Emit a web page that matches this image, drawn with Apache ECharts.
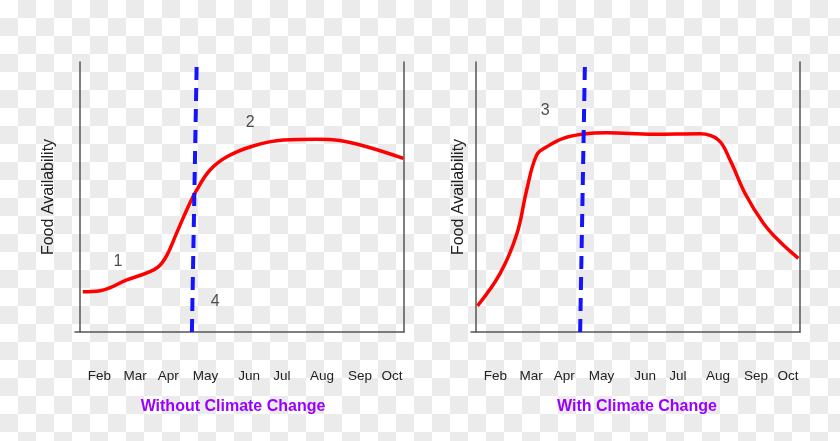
<!DOCTYPE html>
<html>
<head>
<meta charset="utf-8">
<script src="https://cdn.jsdelivr.net/npm/echarts@6/dist/echarts.min.js"></script>
<style>
  html, body { margin: 0; padding: 0; }
  body {
    background: conic-gradient(#ebebeb 0 25%, #fff 0 50%, #ebebeb 0 75%, #fff 0) 0 0 / 36px 36px;
  }
  #chart { width: 840px; height: 441px; }
</style>
</head>
<body>
<div id="chart"></div>
<script>
var months = ['Feb', 'Mar', 'Apr', 'May', 'Jun', 'Jul', 'Aug', 'Sep', 'Oct'];
// where each month label sits along the season (0-100)
var monthPos = [5.9, 17.0, 27.2, 38.7, 52.2, 62.3, 74.7, 86.4, 96.3];

// food availability, without climate change
var foodWithout = [
  [0.8, 14.9], [6.2, 15.3], [14.4, 19.3], [20.6, 21.9], [24.1, 24.1],
  [26.8, 28.5], [29.8, 36.7], [32.9, 45.2], [36.0, 52.6], [40.1, 60.0],
  [45.3, 64.9], [53.4, 68.9], [62.7, 71.1], [73.1, 71.4], [80.2, 70.9],
  [88.5, 68.6], [99.8, 64.3]
];
// food availability, with climate change
var foodWith = [
  [0.4, 9.7], [7.4, 21.7], [12.6, 36.5], [15.6, 52.6], [18.7, 65.6],
  [21.8, 68.6], [26.9, 71.7], [33.1, 73.3], [40.3, 73.8], [54.7, 73.2],
  [69.1, 73.4], [74.8, 71.1], [78.4, 63.7], [83.0, 51.4], [88.7, 40.3],
  [93.8, 33.4], [99.5, 27.3]
];
// hatching date (blue dashed line)
var hatchWithout = [[34.5, 0], [36.0, 101.1]];
var hatchWith = [[32.1, 0], [33.6, 100.7]];

var notesWithout = [['1', 11.7, 25.9], ['2', 52.5, 77.4], ['4', 41.7, 11.1]];
var notesWith = [['3', 21.3, 81.9]];

var titles = ['Without Climate Change', 'With Climate Change'];
var yName = 'Food Availability';

var font = '"Liberation Sans", Arial, sans-serif';
var axisCol = '#555';

var chart = echarts.init(document.getElementById('chart'));

function xAxisFor(idx) {
  return {
    type: 'value', gridIndex: idx, min: -1.6, max: 100,
    axisLine: { show: true, onZero: false, lineStyle: { color: axisCol, width: 1.5 } },
    axisTick: { show: false },
    splitLine: { show: false },
    axisLabel: {
      customValues: monthPos,
      margin: 37,
      color: '#222',
      fontSize: 13.5,
      fontFamily: font,
      formatter: function (v) {
        var i = monthPos.indexOf(v);
        return i >= 0 ? months[i] : '';
      }
    }
  };
}

function yAxesFor(idx, gap) {
  return [{
    type: 'value', gridIndex: idx, min: 0, max: 100,
    name: yName, nameLocation: 'middle', nameGap: gap,
    nameTextStyle: { color: '#222', fontSize: 16, fontFamily: font },
    axisLine: { show: true, onZero: true, lineStyle: { color: axisCol, width: 1.5 } },
    axisTick: { show: false }, axisLabel: { show: false }, splitLine: { show: false }
  }, {
    type: 'value', gridIndex: idx, min: 0, max: 100, position: 'right',
    axisLine: { show: true, onZero: false, lineStyle: { color: axisCol, width: 1.5 } },
    axisTick: { show: false }, axisLabel: { show: false }, splitLine: { show: false }
  }];
}

function curve(idx, data) {
  return {
    type: 'line', xAxisIndex: idx, yAxisIndex: idx * 2, data: data,
    smooth: 0.4, symbol: 'none', clip: false,
    lineStyle: { color: '#ff0000', width: 3.5 }
  };
}

function hatch(idx, data) {
  return {
    type: 'line', xAxisIndex: idx, yAxisIndex: idx * 2, data: data,
    symbol: 'none', clip: false, z: 3,
    lineStyle: { color: '#1414ff', width: 4, type: [13, 8] }
  };
}

function notes(idx, list) {
  return {
    type: 'scatter', xAxisIndex: idx, yAxisIndex: idx * 2, symbolSize: 0,
    data: list.map(function (n) { return { name: n[0], value: [n[1], n[2]] }; }),
    label: {
      show: true, position: 'inside', formatter: '{b}',
      color: '#222', fontSize: 16, fontFamily: font
    }
  };
}

var y0 = yAxesFor(0, 18), y1 = yAxesFor(1, 4);

option = {
  backgroundColor: 'transparent',
  animation: false,
  grid: [
    { left: 75, right: 436, top: 62, bottom: 109 },
    { left: 471, right: 40, top: 62, bottom: 109 }
  ],
  xAxis: [xAxisFor(0), xAxisFor(1)],
  yAxis: [y0[0], y0[1], y1[0], y1[1]],
  graphic: [
    { type: 'text', x: 233, y: 407, style: { text: titles[0], fill: '#9900ff', font: 'bold 16px ' + font, align: 'center', verticalAlign: 'middle' } },
    { type: 'text', x: 637, y: 407, style: { text: titles[1], fill: '#9900ff', font: 'bold 16px ' + font, align: 'center', verticalAlign: 'middle' } }
  ],
  series: [
    curve(0, foodWithout), hatch(0, hatchWithout), notes(0, notesWithout),
    curve(1, foodWith), hatch(1, hatchWith), notes(1, notesWith)
  ]
};

chart.setOption(option);
</script>
</body>
</html>
